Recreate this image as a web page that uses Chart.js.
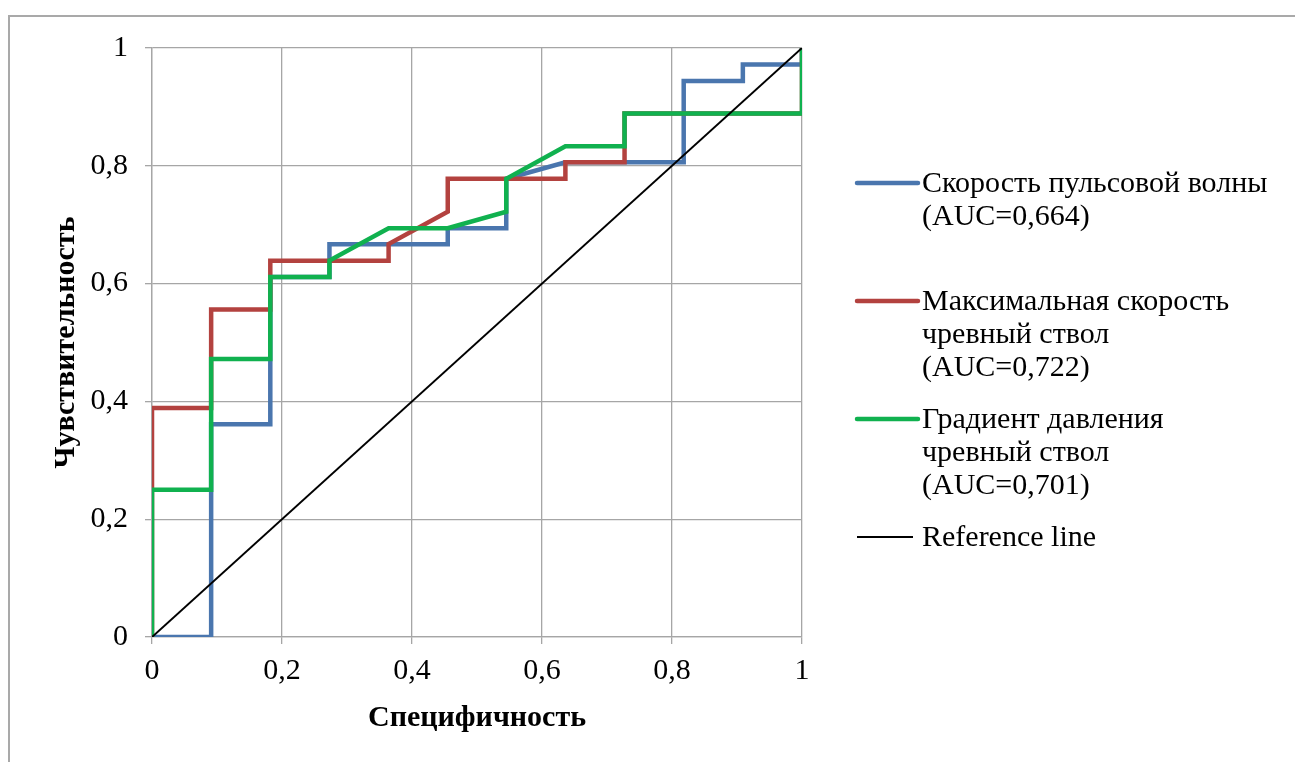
<!DOCTYPE html>
<html>
<head>
<meta charset="utf-8">
<script src="https://cdn.jsdelivr.net/npm/chart.js@4.4.1/dist/chart.umd.min.js"></script>
<style>
  html, body { margin: 0; padding: 0; background: #ffffff; }
  #wrap { position: relative; width: 1295px; height: 762px; overflow: hidden; }
  #frame { position: absolute; left: 8px; top: 15px; width: 1400px; height: 900px;
           border-top: 2px solid #a9a9a9; border-left: 2px solid #a9a9a9; box-sizing: border-box; }
  canvas { position: absolute; left: 0; top: 0; }
</style>
</head>
<body>
<div id="wrap">
  <div id="frame"></div>
  <canvas id="c" width="1295" height="762"></canvas>
</div>
<script>
// ---- Data ----
const xTickLabels = ["0", "0,2", "0,4", "0,6", "0,8", "1"];
const yTickLabels = ["0", "0,2", "0,4", "0,6", "0,8", "1"];

const seriesNames = [
  ["Скорость пульсовой волны", "(AUC=0,664)"],
  ["Максимальная скорость", "чревный ствол", "(AUC=0,722)"],
  ["Градиент давления", "чревный ствол", "(AUC=0,701)"],
  ["Reference line"]
];

// 1 - specificity (x) and sensitivity (y) for each curve
const pulseX = [0, 0.091, 0.091, 0.182, 0.182, 0.273, 0.273, 0.455, 0.455, 0.545, 0.545, 0.636, 0.818, 0.818, 0.909, 0.909, 1, 1];
const pulseY = [0, 0, 0.361, 0.361, 0.611, 0.611, 0.667, 0.667, 0.694, 0.694, 0.778, 0.806, 0.806, 0.944, 0.944, 0.972, 0.972, 1];

const maxSpeedX = [0, 0, 0.091, 0.091, 0.182, 0.182, 0.364, 0.364, 0.455, 0.455, 0.636, 0.636, 0.727, 0.727, 0.727, 1, 1];
const maxSpeedY = [0, 0.389, 0.389, 0.556, 0.556, 0.639, 0.639, 0.667, 0.722, 0.778, 0.778, 0.806, 0.806, 0.833, 0.889, 0.889, 1];

const gradientX = [0, 0, 0.091, 0.091, 0.182, 0.182, 0.273, 0.273, 0.364, 0.455, 0.545, 0.545, 0.636, 0.727, 0.727, 1, 1];
const gradientY = [0, 0.25, 0.25, 0.472, 0.472, 0.611, 0.611, 0.639, 0.694, 0.694, 0.722, 0.778, 0.833, 0.833, 0.889, 0.889, 1];

const refX = [0, 1];
const refY = [0, 1];

const colors = ["#4a76ae", "#b3423f", "#10b14f", "#000000"];

function pts(xs, ys) { return xs.map((x, i) => ({ x: x, y: ys[i] })); }

const FONT = "'Liberation Serif', 'Times New Roman', serif";

// custom legend drawn to the right of the plot
const legendPlugin = {
  id: 'sideLegend',
  afterDraw(chart) {
    const ctx = chart.ctx;
    const lineX0 = 857, lineX1 = 918, textX = 922;
    const firstY = 183, slot = 118, lineStep = 33;
    ctx.save();
    ctx.font = "30px " + FONT;
    ctx.textBaseline = 'middle';
    ctx.textAlign = 'left';
    chart.data.datasets.forEach((ds, i) => {
      const y0 = firstY + slot * i;
      ctx.strokeStyle = ds.borderColor;
      ctx.lineWidth = i === 3 ? 2 : 4.5;
      ctx.lineCap = i === 3 ? 'butt' : 'round';
      ctx.beginPath();
      ctx.moveTo(lineX0, y0);
      ctx.lineTo(i === 3 ? 913 : lineX1, y0);
      ctx.stroke();
      ctx.fillStyle = '#000';
      seriesNames[i].forEach((t, k) => ctx.fillText(t, textX, y0 + 1 + k * lineStep));
    });
    ctx.restore();
  }
};

new Chart(document.getElementById('c'), {
  type: 'scatter',
  data: {
    datasets: [
      { label: seriesNames[0].join(' '), data: pts(pulseX, pulseY), borderColor: colors[0] },
      { label: seriesNames[1].join(' '), data: pts(maxSpeedX, maxSpeedY), borderColor: colors[1] },
      { label: seriesNames[2].join(' '), data: pts(gradientX, gradientY), borderColor: colors[2] },
      { label: seriesNames[3].join(' '), data: pts(refX, refY), borderColor: colors[3], borderWidth: 2 }
    ].map((d, i) => Object.assign({
      showLine: true, pointRadius: 0, pointHoverRadius: 0, tension: 0,
      borderWidth: 4.5, fill: false, borderJoinStyle: 'miter', order: 4 - i
    }, d))
  },
  options: {
    responsive: false,
    animation: false,
    events: [],
    layout: { padding: { left: 0, right: 493, top: 48, bottom: 0 } },
    plugins: { legend: { display: false }, tooltip: { enabled: false } },
    scales: {
      x: {
        type: 'linear', min: 0, max: 1,
        afterFit: s => { s.height = 125; },
        afterBuildTicks: s => { s.ticks = xTickLabels.map((_, i) => ({ value: i * 0.2 })); },
        ticks: { callback: (v, i) => xTickLabels[i], color: '#000', font: { family: FONT, size: 30 }, padding: 9, maxRotation: 0 },
        grid: { color: '#a6a6a6', lineWidth: 1.3, tickLength: 7, drawTicks: true },
        border: { color: '#a6a6a6', width: 1.3 },
        title: { display: true, text: 'Специфичность', color: '#000', font: { family: FONT, size: 30, weight: 'bold' }, padding: { top: 0, bottom: 26 } }
      },
      y: {
        type: 'linear', min: 0, max: 1,
        afterFit: s => { s.width = 152; },
        afterBuildTicks: s => { s.ticks = yTickLabels.map((_, i) => ({ value: i * 0.2 })); },
        ticks: { callback: (v, i) => yTickLabels[i], color: '#000', font: { family: FONT, size: 30 }, padding: 17 },
        grid: { color: '#a6a6a6', lineWidth: 1.3, tickLength: 7, drawTicks: true },
        border: { color: '#a6a6a6', width: 1.3 },
        title: { display: true, text: 'Чувствительность', color: '#000', font: { family: FONT, size: 30, weight: 'bold' }, padding: { top: 48, bottom: 0 } }
      }
    }
  },
  plugins: [legendPlugin]
});
</script>
</body>
</html>
